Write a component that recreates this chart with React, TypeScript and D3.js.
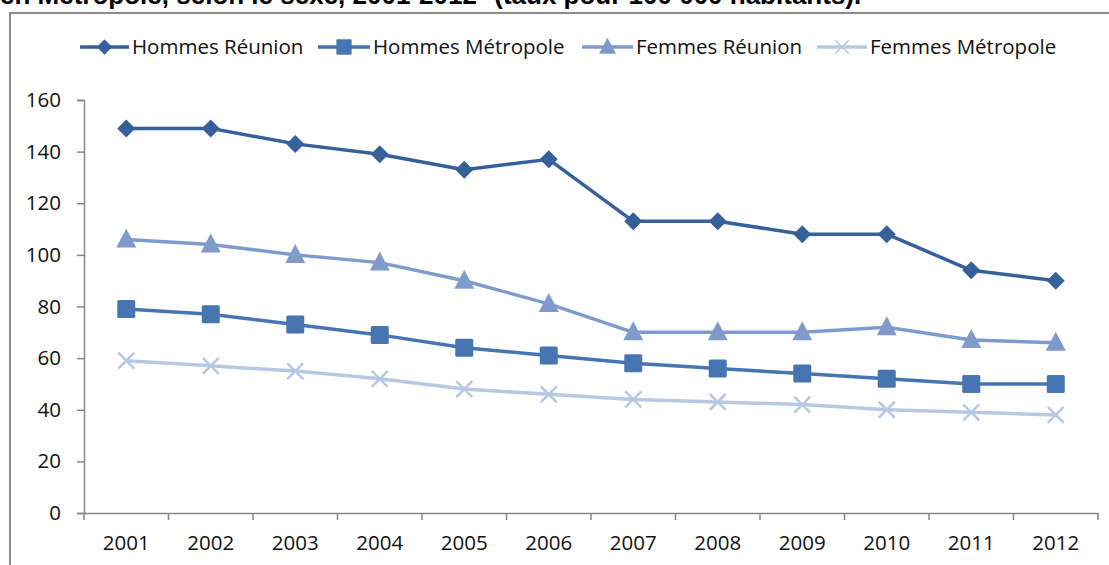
import React, { useEffect, useRef } from 'react';
import * as d3 from 'd3';

const years = ['2001', '2002', '2003', '2004', '2005', '2006', '2007', '2008', '2009', '2010', '2011', '2012'];
const hommesReunion = [149, 149, 143, 139, 133, 137, 113, 113, 108, 108, 94, 90];
const hommesMetropole = [79, 77, 73, 69, 64, 61, 58, 56, 54, 52, 50, 50];
const femmesReunion = [106, 104, 100, 97, 90, 81, 70, 70, 70, 72, 67, 66];
const femmesMetropole = [59, 57, 55, 52, 48, 46, 44, 43, 42, 40, 39, 38];
const yTicks = [0, 20, 40, 60, 80, 100, 120, 140, 160];

const title = 'en Métropole, selon le sexe, 2001-2012* (taux pour 100 000 habitants).';

type Marker = 'diamond' | 'square' | 'triangle' | 'cross';

const series: { name: string; values: number[]; color: string; marker: Marker }[] = [
  { name: 'Hommes Réunion', values: hommesReunion, color: '#35609A', marker: 'diamond' },
  { name: 'Hommes Métropole', values: hommesMetropole, color: '#4675B2', marker: 'square' },
  { name: 'Femmes Réunion', values: femmesReunion, color: '#7E9BCB', marker: 'triangle' },
  { name: 'Femmes Métropole', values: femmesMetropole, color: '#B8C8E2', marker: 'cross' },
];

const WIDTH = 1109;
const HEIGHT = 565;
const FONT = '"Open Sans", sans-serif';

function drawMarker(g: d3.Selection<SVGGElement, unknown, null, undefined>, type: Marker, x: number, y: number, color: string, k = 1, crossWidth = 2.5) {
  if (type === 'diamond') {
    const r = 9 * k;
    g.append('path')
      .attr('d', `M${x},${y - r}L${x + r},${y}L${x},${y + r}L${x - r},${y}Z`)
      .attr('fill', color);
  } else if (type === 'square') {
    const r = 9 * k;
    g.append('rect')
      .attr('x', x - r).attr('y', y - r)
      .attr('width', 2 * r).attr('height', 2 * r)
      .attr('rx', 1.5 * k)
      .attr('fill', color);
  } else if (type === 'triangle') {
    g.append('path')
      .attr('d', `M${x},${y - 11 * k}L${x + 10 * k},${y + 8 * k}L${x - 10 * k},${y + 8 * k}Z`)
      .attr('fill', color);
  } else {
    const r = 8 * k;
    g.append('path')
      .attr('d', `M${x - r},${y - r}L${x + r},${y + r}M${x + r},${y - r}L${x - r},${y + r}`)
      .attr('stroke', color)
      .attr('stroke-width', crossWidth)
      .attr('fill', 'none');
  }
}

const App: React.FC = () => {
  const svgRef = useRef<SVGSVGElement>(null);

  useEffect(() => {
    if (!svgRef.current) return;
    const svg = d3.select(svgRef.current);
    svg.selectAll('*').remove();

    const left = 84;
    const right = 1098;
    const top = 100;
    const bottom = 513;

    const x = d3.scaleBand().domain(years).range([left, right]);
    const y = d3.scaleLinear().domain([0, 160]).range([bottom, top]);

    svg.append('rect').attr('width', WIDTH).attr('height', HEIGHT).attr('fill', '#fff');

    // title, cut by the top of the picture as in the source
    svg.append('text')
      .attr('x', 0)
      .attr('y', 4)
      .style('font-family', 'Liberation Sans, Arial, sans-serif')
      .style('font-weight', 'bold')
      .style('font-size', '26px')
      .attr('fill', '#000')
      .text(title);

    // chart frame
    svg.append('path')
      .attr('d', `M10,${HEIGHT + 2}V13H${WIDTH + 2}`)
      .attr('fill', 'none')
      .attr('stroke', '#8a8a8a')
      .attr('stroke-width', 2);

    // axes
    const yAxis = svg.append('g')
      .attr('transform', `translate(${left},0)`)
      .call(d3.axisLeft(y).tickValues(yTicks).tickSize(7).tickPadding(16));
    const xAxis = svg.append('g')
      .attr('transform', `translate(0,${bottom})`)
      .call(d3.axisBottom(x).tickSize(0).tickPadding(22));

    xAxis.selectAll('.tick').append('line')
      .attr('x1', -x.bandwidth() / 2).attr('x2', -x.bandwidth() / 2)
      .attr('y1', 0).attr('y2', 7)
      .attr('stroke', '#868686').attr('stroke-width', 1.5);
    xAxis.append('line')
      .attr('x1', right).attr('x2', right)
      .attr('y1', 0).attr('y2', 7)
      .attr('stroke', '#868686').attr('stroke-width', 1.5);

    [yAxis, xAxis].forEach(a => {
      a.select('.domain').attr('stroke', '#868686').attr('stroke-width', 1.5);
      a.selectAll('.tick line').attr('stroke', '#868686').attr('stroke-width', 1.5);
      a.selectAll('text')
        .style('font-family', FONT)
        .style('font-size', '20.5px')
        .attr('fill', '#111');
    });

    const line = d3.line<number>()
      .x((_, i) => (x(years[i]) || 0) + x.bandwidth() / 2)
      .y(d => y(d));

    // draw back-to-front so darker series sit on top
    [...series].reverse().forEach(s => {
      const g = svg.append('g');
      g.append('path')
        .datum(s.values)
        .attr('d', line)
        .attr('fill', 'none')
        .attr('stroke', s.color)
        .attr('stroke-width', 3.5)
        .attr('stroke-linejoin', 'round');
      s.values.forEach((v, i) => {
        drawMarker(g, s.marker, (x(years[i]) || 0) + x.bandwidth() / 2, y(v), s.color);
      });
    });

    // legend
    const legendLine = [[80, 129], [318, 370], [582, 633], [817, 867]];
    const legendY = 47;
    series.forEach((s, i) => {
      const g = svg.append('g');
      const [x0, x1] = legendLine[i];
      g.append('line')
        .attr('x1', x0).attr('x2', x1)
        .attr('y1', legendY).attr('y2', legendY)
        .attr('stroke', s.color)
        .attr('stroke-width', 3.5);
      drawMarker(g, s.marker, (x0 + x1) / 2, legendY, s.color, 0.85, 1.5);
      g.append('text')
        .attr('x', x1 + 3)
        .attr('y', legendY)
        .attr('dy', '0.35em')
        .style('font-family', FONT)
        .style('font-size', '20.5px')
        .attr('fill', '#111')
        .text(s.name);
    });
  }, []);

  return (
    <div style={{ position: 'absolute', left: 0, top: 0 }}>
      <svg ref={svgRef} width={WIDTH} height={HEIGHT} style={{ display: 'block' }} />
    </div>
  );
};

export default App;
